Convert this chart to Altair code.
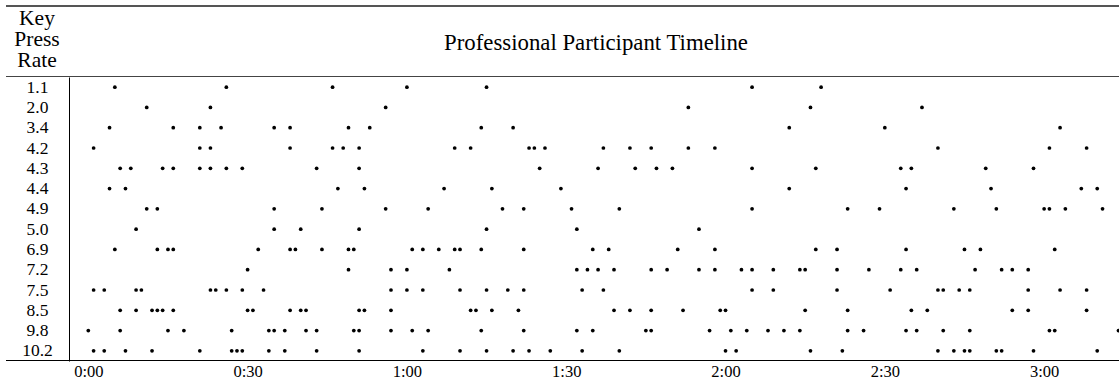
import altair as alt
import pandas as pd

# Key press rate categories, top to bottom
rates = ["1.1", "2.0", "3.4", "4.2", "4.3", "4.4", "4.9", "5.0",
         "6.9", "7.2", "7.5", "8.5", "9.8", "10.2"]

# Seconds into the session at which each key press occurred, per rate
r1_1 = [5, 26, 46, 60, 75, 125, 138]
r2_0 = [11, 23, 56, 113, 136, 157]
r3_4 = [4, 16, 21, 25, 35, 38, 49, 53, 74, 80, 132, 150, 183]
r4_2 = [1, 21, 23, 38, 46, 48, 51, 69, 72, 83, 84, 86, 97, 102, 106, 113, 118,
        160, 181, 188]
r4_3 = [6, 8, 14, 16, 21, 23, 26, 29, 43, 51, 85, 96, 103, 107, 110, 125, 137,
        153, 155, 169, 178]
r4_4 = [4, 7, 47, 52, 67, 76, 89, 132, 154, 170, 187, 190]
r4_9 = [11, 13, 35, 44, 56, 64, 78, 82, 91, 100, 125, 143, 149, 163, 171, 180,
        181, 184, 191]
r5_0 = [9, 35, 40, 51, 75, 92, 115]
r6_9 = [5, 13, 15, 16, 32, 38, 39, 44, 49, 50, 61, 63, 66, 69, 70, 74, 82, 95,
        98, 111, 118, 137, 141, 154, 165, 168, 182]
r7_2 = [30, 49, 57, 60, 68, 92, 94, 96, 99, 106, 109, 115, 118, 123, 125, 129,
        134, 135, 141, 147, 153, 156, 167, 172, 174, 177]
r7_5 = [1, 3, 9, 10, 23, 24, 26, 29, 33, 57, 60, 63, 70, 75, 79, 82, 93, 97,
        125, 129, 141, 151, 160, 161, 164, 166, 177, 183, 188]
r8_5 = [6, 9, 12, 13, 14, 16, 30, 31, 38, 40, 41, 51, 52, 57, 72, 73, 76, 81,
        99, 102, 106, 112, 119, 120, 135, 143, 155, 158, 174, 177, 188]
r9_8 = [0, 6, 15, 18, 27, 34, 35, 37, 41, 43, 50, 51, 57, 61, 64, 74, 82, 92,
        95, 105, 106, 117, 121, 124, 128, 131, 134, 143, 146, 154, 156, 161,
        166, 181, 182, 194]
r10_2 = [1, 3, 7, 12, 21, 27, 28, 29, 34, 37, 43, 51, 63, 70, 75, 80, 83, 87,
         93, 100, 120, 122, 136, 142, 160, 163, 165, 166, 171, 172, 178, 190]

press_rows = [r1_1, r2_0, r3_4, r4_2, r4_3, r4_4, r4_9, r5_0,
              r6_9, r7_2, r7_5, r8_5, r9_8, r10_2]

tick_seconds = [0, 30, 60, 90, 120, 150, 180]
header_lines = ["Key", "Press", "Rate"]
title_text = "Professional Participant Timeline"

df = pd.DataFrame(
    [{"rate": r, "sec": s} for r, times in zip(rates, press_rows) for s in times]
)

W, H = 1050, 284
serif = "Liberation Serif"
one = alt.Data(values=[{}])

dots = alt.Chart(df).mark_circle(size=14, color="black", opacity=1).encode(
    x=alt.X(
        "sec:Q",
        scale=alt.Scale(domain=[-3.635, 194.1], nice=False, zero=False),
        axis=alt.Axis(
            values=tick_seconds,
            labelExpr="floor(datum.value / 60) + ':' + "
                      "(datum.value % 60 < 10 ? '0' : '') + (datum.value % 60)",
            title=None, grid=False, ticks=False, domain=False,
            labelFont=serif, labelFontSize=16.5, labelColor="black",
            labelPadding=2, labelFlush=False,
        ),
    ),
    y=alt.Y(
        "rate:O",
        sort=rates,
        scale=alt.Scale(type="point", padding=0.5),
        axis=alt.Axis(
            title=None, grid=False, ticks=False, domain=True,
            domainColor="black", domainWidth=1,
            labelAlign="center", labelBaseline="middle", labelPadding=32,
            labelFont=serif, labelFontSize=17.5, labelColor="black",
        ),
    ),
)

top_rule = alt.Chart(one).mark_rule(color="#555555", strokeWidth=2).encode(
    x=alt.value(-63), x2=alt.value(W), y=alt.value(-71)
)
header_rule = alt.Chart(one).mark_rule(color="#444444", strokeWidth=1).encode(
    x=alt.value(-63), x2=alt.value(W), y=alt.value(-0.5)
)
bottom_rule = alt.Chart(one).mark_rule(color="black", strokeWidth=1).encode(
    x=alt.value(-63), x2=alt.value(W), y=alt.value(H - 0.5)
)

header = alt.Chart(one).mark_text(
    text=header_lines, font=serif, fontSize=21.5, lineHeight=20.8,
    align="center", baseline="alphabetic", color="black",
).encode(x=alt.value(-32), y=alt.value(-52))

title = alt.Chart(one).mark_text(
    text=title_text, font=serif, fontSize=22.8,
    align="center", baseline="alphabetic", color="black",
).encode(x=alt.value(527), y=alt.value(-27))

chart = alt.layer(top_rule, header_rule, bottom_rule, header, title, dots).properties(
    width=W,
    height=H,
    padding={"left": 69, "top": 77, "right": 0, "bottom": 20},
    autosize=alt.AutoSizeParams(type="none"),
).configure_view(strokeWidth=0)

chart.save("out.html", embed_options={"renderer": "svg", "actions": False})
